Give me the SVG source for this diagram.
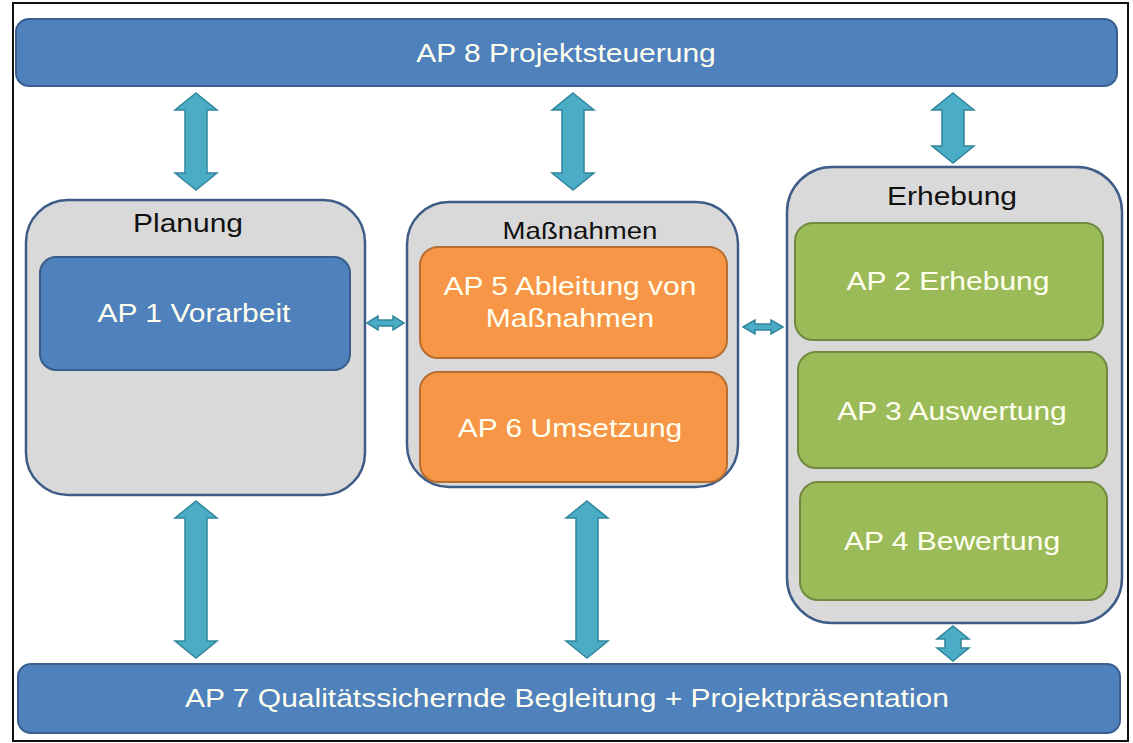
<svg xmlns="http://www.w3.org/2000/svg" width="1133" height="743" viewBox="0 0 1133 743">
<defs>
<style>
.bar{fill:#4F81BD;stroke:#3A5F8E;stroke-width:2}
.cont{fill:#D9D9D9;stroke:#3E5C88;stroke-width:2.5}
.blue{fill:#4F81BD;stroke:#385D8A;stroke-width:2}
.orange{fill:#F79646;stroke:#B66D31;stroke-width:2}
.green{fill:#9BBB59;stroke:#71893F;stroke-width:2}
.arrow{fill:#4BACC6;stroke:#31859C;stroke-width:1.5}
text{font-family:"Liberation Sans",Arial,sans-serif;text-anchor:middle;font-size:25px}
.w{fill:#FFFFF0}
.k{fill:#111}
</style>
</defs>
<rect x="0" y="0" width="1133" height="743" fill="#fff"/>
<rect x="13" y="3" width="1115" height="738" fill="none" stroke="#111" stroke-width="2"/>
<g id="ap8">
<rect class="bar" x="16" y="19" width="1101" height="67" rx="13"/>
<text class="w" transform="translate(566 62) scale(1.2 1)">AP 8 Projektsteuerung</text>
</g>
<g id="ap7">
<rect class="bar" x="18" y="664" width="1102" height="69" rx="13"/>
<text class="w" transform="translate(567 707) scale(1.2 1)">AP 7 Qualitätssichernde Begleitung + Projektpräsentation</text>
</g>
<g id="planung">
<rect class="cont" x="26" y="200" width="339" height="295" rx="42"/>
<text class="k" transform="translate(188 232) scale(1.2 1)">Planung</text>
</g>
<g id="ap1">
<rect class="blue" x="40" y="257" width="310" height="113" rx="16"/>
<text class="w" transform="translate(194 322) scale(1.2 1)">AP 1 Vorarbeit</text>
</g>
<g id="massnahmen">
<rect class="cont" x="407" y="202" width="331" height="285" rx="42"/>
<text class="k" transform="translate(580 239) scale(1.2 1)" style="font-size:23px">Maßnahmen</text>
</g>
<g id="ap5">
<rect class="orange" x="420" y="247" width="307" height="111" rx="18"/>
<text class="w" transform="translate(570 295) scale(1.2 1)">AP 5 Ableitung von</text>
<text class="w" transform="translate(570 327) scale(1.2 1)">Maßnahmen</text>
</g>
<g id="ap6">
<rect class="orange" x="420" y="372" width="307" height="110" rx="18"/>
<text class="w" transform="translate(570 437) scale(1.2 1)">AP 6 Umsetzung</text>
</g>
<g id="erhebung">
<rect class="cont" x="787" y="167" width="335" height="456" rx="45"/>
<text class="k" transform="translate(952 205) scale(1.2 1)">Erhebung</text>
</g>
<g id="ap2">
<rect class="green" x="795" y="223" width="308" height="117" rx="18"/>
<text class="w" transform="translate(948 290) scale(1.2 1)">AP 2 Erhebung</text>
</g>
<g id="ap3">
<rect class="green" x="798" y="352" width="309" height="116" rx="18"/>
<text class="w" transform="translate(952 420) scale(1.2 1)">AP 3 Auswertung</text>
</g>
<g id="ap4">
<rect class="green" x="800" y="482" width="307" height="118" rx="18"/>
<text class="w" transform="translate(952 550) scale(1.2 1)">AP 4 Bewertung</text>
</g>
<g id="connectors">
<path class="arrow" d="M196 93 L217 110 L207 110 L207 173 L217 173 L196 190 L175 173 L185 173 L185 110 L175 110 Z"/>
<path class="arrow" d="M573 93 L594 110 L584 110 L584 173 L594 173 L573 190 L552 173 L562 173 L562 110 L552 110 Z"/>
<path class="arrow" d="M953 93 L974 110 L964 110 L964 146 L974 146 L953 163 L932 146 L942 146 L942 110 L932 110 Z"/>
<path class="arrow" d="M196 501 L217 518 L207 518 L207 641 L217 641 L196 658 L175 641 L185 641 L185 518 L175 518 Z"/>
<path class="arrow" d="M587 501 L608 518 L598 518 L598 641 L608 641 L587 658 L566 641 L576 641 L576 518 L566 518 Z"/>
<path class="arrow" d="M953 626 L969 639 L961 639 L961 648 L969 648 L953 661 L937 648 L945 648 L945 639 L937 639 Z"/>
<path class="arrow" d="M367 323 L378 316 L378 320 L393 320 L393 316 L404 323 L393 330 L393 326 L378 326 L378 330 Z"/>
<path class="arrow" d="M743 327 L755 320 L755 324 L771 324 L771 320 L783 327 L771 334 L771 330 L755 330 L755 334 Z"/>
</g>
</svg>
